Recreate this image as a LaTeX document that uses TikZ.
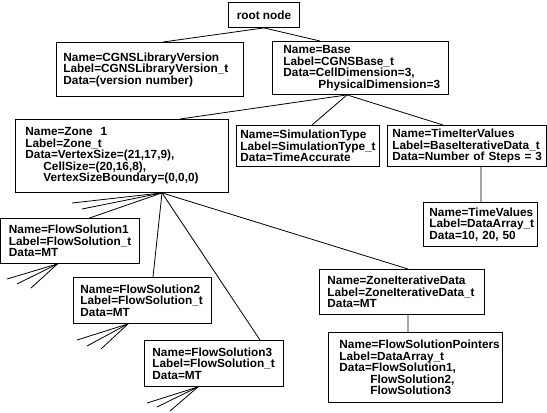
\documentclass[tikz,border=0pt]{standalone}
\usepackage{fontspec}
\setmainfont{Liberation Sans}
\newcommand\oneline[1]{\mbox{#1}}
\begin{document}
\begin{tikzpicture}[x=1bp,y=-1bp,
  line width=0.9bp,
  txt/.style={font=\bfseries\fontsize{11.8bp}{11.5bp}\selectfont},
  box/.style n args={4}{txt, draw, anchor=north west, align=left,
    inner xsep=#1, inner ysep=0pt, text width=#2, minimum height=#3},
  rootbox/.style={txt, draw, anchor=north west, minimum width=71bp, minimum height=25bp, inner sep=0pt},
  conn/.style={line width=0.8bp}
]
\useasboundingbox (0,0) rectangle (547,412);

\node[rootbox] (root) at (228,2) {root node};

\node[box={7bp}{173bp}{54bp}{}] (cgns) at (56,42)
  {Name=CGNSLibraryVersion\\Label=CGNSLibraryVersion\_t\\\oneline{Data=(version number)}};

\node[box={11bp}{154bp}{53bp}{}] (base) at (272,41)
  {Name=Base\\Label=CGNSBase\_t\\\oneline{Data=CellDimension=3,}\\\oneline{\hspace*{35bp}PhysicalDimension=3}};

\node[box={10bp}{193bp}{73bp}{}] (zone) at (15,119)
  {\oneline{Name=Zone\ \ 1}\\Label=Zone\_t\\\oneline{Data=VertexSize=(21,17,9),}\\\oneline{\hspace*{18bp}CellSize=(20,16,8),}\\\oneline{\hspace*{18bp}VertexSizeBoundary=(0,0,0)}};

\node[box={4bp}{135bp}{41bp}{}] (simtype) at (236,125)
  {Name=SimulationType\\Label=SimulationType\_t\\Data=TimeAccurate};

\node[box={5bp}{149bp}{41bp}{}] (tiv) at (387,125)
  {Name=TimeIterValues\\\oneline{Label=BaseIterativeData\_t}\\\oneline{Data=Number of Steps = 3}};

\node[box={6bp}{102bp}{44bp}{}] (tv) at (423,202)
  {Name=TimeValues\\Label=DataArray\_t\\\oneline{Data=10, 20, 50}};

\node[box={8bp}{122bp}{45bp}{}] (fs1) at (0.5,218)
  {Name=FlowSolution1\\Label=FlowSolution\_t\\Data=MT};

\node[box={7bp}{124bp}{46bp}{}] (fs2) at (73,277)
  {Name=FlowSolution2\\Label=FlowSolution\_t\\Data=MT};

\node[box={8bp}{123bp}{46bp}{}] (fs3) at (144,340)
  {Name=FlowSolution3\\Label=FlowSolution\_t\\Data=MT};

\node[box={8bp}{149bp}{45bp}{}] (zid) at (319,269)
  {Name=ZoneIterativeData\\Label=ZoneIterativeData\_t\\Data=MT};

\node[box={11bp}{152bp}{70bp}{}] (fsp) at (328,332)
  {\oneline{Name=FlowSolutionPointers}\\Label=DataArray\_t\\\oneline{Data=FlowSolution1,}\\\oneline{\hspace*{31bp}FlowSolution2,}\\\oneline{\hspace*{31bp}FlowSolution3}};

% junction points on box edges
\coordinate (basej) at ([xshift=75bp]base.south west);
\coordinate (zonej) at ([xshift=147bp]zone.south west);
\coordinate (fs1j) at ([xshift=57bp]fs1.south west);
\coordinate (fs2j) at ([xshift=55bp]fs2.south west);
\coordinate (fs3j) at ([xshift=54bp]fs3.south west);

% stub ends
\coordinate (zs1) at (72,203);
\coordinate (zs2) at (82,209);
\coordinate (a1) at (7,279);
\coordinate (a2) at (17,284);
\coordinate (a3) at (31,288);
\coordinate (b1) at (77,340);
\coordinate (b2) at (87,346);
\coordinate (b3) at (101,349);
\coordinate (c1) at (147,403);
\coordinate (c2) at (157,407);
\coordinate (c3) at (170,411);

\draw[conn] (root.south) -- ([xshift=107bp]cgns.north west);
\draw[conn] (root.south) -- ([xshift=48bp]base.north west);

\draw[conn] (basej) -- ([xshift=165bp]zone.north west);
\draw[conn] (basej) -- ([xshift=76bp]simtype.north west);
\draw[conn] (basej) -- ([xshift=56bp]tiv.north west);

\draw[conn] ([xshift=94bp]tiv.south west) -- ([xshift=58bp]tv.north west);

\draw[conn] (zonej) -- (zs1);
\draw[conn] (zonej) -- (zs2);
\draw[conn] (zonej) -- ([xshift=89bp]fs1.north west);
\draw[conn] (zonej) -- ([xshift=80bp]fs2.north west);
\draw[conn] (zonej) -- ([xshift=116bp]fs3.north west);
\draw[conn] (zonej) -- ([xshift=89bp]zid.north west);

\draw[conn] ([xshift=89bp]zid.south west) -- ([xshift=80bp]fsp.north west);

\draw[conn] (fs1j) -- (a1);
\draw[conn] (fs1j) -- (a2);
\draw[conn] (fs1j) -- (a3);
\draw[conn] (fs2j) -- (b1);
\draw[conn] (fs2j) -- (b2);
\draw[conn] (fs2j) -- (b3);
\draw[conn] (fs3j) -- (c1);
\draw[conn] (fs3j) -- (c2);
\draw[conn] (fs3j) -- (c3);
\end{tikzpicture}
\end{document}
